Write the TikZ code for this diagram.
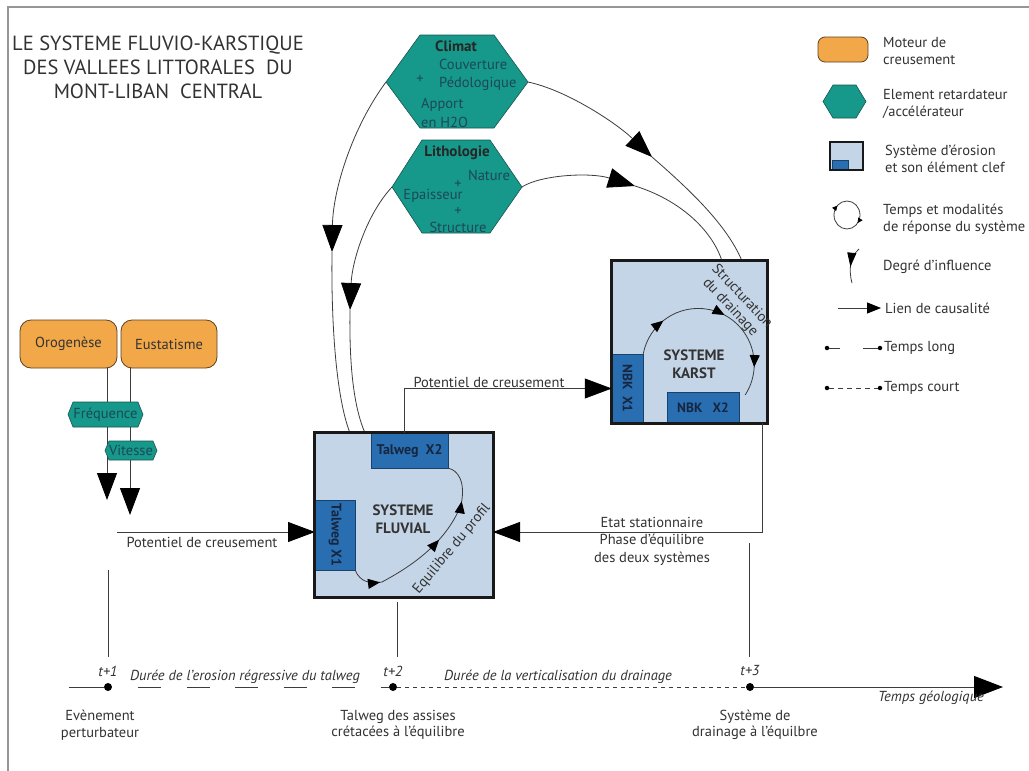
\documentclass[tikz,border=0pt]{standalone}
\usepackage{fontspec}
\setmainfont{PT Sans}
\usetikzlibrary{arrows.meta,decorations.markings,calc}
\definecolor{orangebox}{RGB}{242,168,72}
\definecolor{orangeedge}{RGB}{95,65,35}
\definecolor{tealfill}{RGB}{22,152,138}
\definecolor{tealedge}{RGB}{25,85,80}
\definecolor{tealtext}{RGB}{28,72,88}
\definecolor{sysfill}{RGB}{197,213,232}
\definecolor{keyfill}{RGB}{42,110,178}
\definecolor{keytext}{RGB}{22,38,62}
\definecolor{linecol}{RGB}{60,60,60}
\definecolor{txt}{RGB}{50,50,50}
\definecolor{framecol}{RGB}{150,150,150}
\tikzset{
  conn/.style={draw=linecol, line width=0.8pt},
  bigarrow/.style={conn, -{Triangle[length=27pt,width=20pt,black]}},
  lbl/.style={inner sep=0pt, text=txt, font=\fontsize{14.5}{17.5}\selectfont},
  legtxt/.style={inner sep=0pt, text=txt, anchor=west, align=left, font=\fontsize{14.5}{17}\selectfont},
  tltxt/.style={inner sep=0pt, text=txt, align=center, font=\fontsize{14.5}{16.5}\selectfont},
  tlital/.style={inner sep=0pt, text=txt, font=\itshape\fontsize{14.5}{16}\selectfont},
  hexa/.style={fill=tealfill, draw=tealedge, line width=0.6pt},
  hextxt/.style={inner sep=0pt, text=tealtext, font=\fontsize{14.5}{18.5}\selectfont},
  hexbold/.style={inner sep=0pt, text=black!85, font=\bfseries\fontsize{15}{16}\selectfont},
  motor/.style={draw=orangeedge, fill=orangebox, rounded corners=11pt, line width=0.8pt,
     inner sep=0pt, text=txt, font=\fontsize{14.5}{16}\selectfont},
  sysbox/.style={fill=sysfill, draw=none, inner sep=0pt},
  sysborder/.style={draw=black!90, line width=3pt},
  keybox/.style={fill=keyfill, draw=keyfill!60!black, line width=0.5pt, inner sep=0pt,
     text=keytext, font=\bfseries\fontsize{14}{15}\selectfont},
  systxt/.style={inner sep=0pt, align=center, text=black!80, font=\bfseries\fontsize{15}{18}\selectfont},
  tdot/.style={circle, fill=black, inner sep=0pt, minimum size=8pt},
  sdot/.style={circle, fill=black, inner sep=0pt, minimum size=4.5pt}
}
\begin{document}
\begin{tikzpicture}[x=1pt,y=-1pt]
\useasboundingbox (0,0) rectangle (1029,771);
\fill[white] (0,0) rectangle (1029,771);
\draw[framecol, line width=1.3pt] (8,771) -- (8,7) -- (1029,7);

% ---------- title
\node[inner sep=0pt, align=center, text=txt, font=\fontsize{20.5}{24}\selectfont] (title) at (158,67)
  {LE SYSTEME\ FLUVIO-KARSTIQUE\\DES VALLEES\ LITTORALES\ \ DU\\MONT-LIBAN\ \ CENTRAL};

% ---------- named coordinates
\coordinate (climL) at (386,82);
\coordinate (climR) at (528,82);
\coordinate (lithL) at (392,187);
\coordinate (lithR) at (522,187);
\coordinate (fA) at (332,252);
\coordinate (fB) at (350,310);
\coordinate (fluvT1) at (350,433);
\coordinate (fluvT2) at (365,433);
\coordinate (fluvT3) at (404,433);
\coordinate (kA) at (652,157);
\coordinate (kB) at (635,186);
\coordinate (karstT1) at (742,261);
\coordinate (karstT2) at (722,261);
\coordinate (karstB) at (762,423);
\coordinate (fluvR) at (493,532);
\coordinate (fluvL) at (315,532);
\coordinate (potS) at (117,532);
\coordinate (oroOut) at (107,368);
\coordinate (oroEnd) at (107,500);
\coordinate (eusOut) at (130,368);
\coordinate (eusEnd) at (130,515);

% ---------- curves from hexagons
\draw[bigarrow] (climL) .. controls (352,128) and (333,190) .. (fA);
\draw[conn] (fA) .. controls (331,330) and (337,400) .. (fluvT1);
\draw[bigarrow] (lithL) .. controls (366,215) and (352,262) .. (fB);
\draw[conn] (fB) .. controls (349,372) and (355,410) .. (fluvT2);
\draw[bigarrow] (climR) .. controls (566,90) and (615,122) .. (kA);
\draw[conn] (kA) .. controls (690,190) and (727,225) .. (karstT1);
\draw[bigarrow] (lithR) .. controls (540,175) and (590,172) .. (kB);
\draw[conn] (kB) .. controls (680,200) and (712,230) .. (karstT2);

% ---------- hexagons
\path[hexa] (386,82) -- (420,35) -- (494,35) -- (528,82) -- (494,128) -- (420,128) -- cycle;
\path[hexa] (392,187) -- (422,140) -- (490,140) -- (522,187) -- (490,233) -- (422,233) -- cycle;
\node[hexbold] (climat) at (456,46) {Climat};
\node[hextxt, anchor=west, align=left] (couv) at (439,75) {Couverture\\Pédologique};
\node[hextxt] (plus1) at (420,79) {+};
\node[hextxt, anchor=west, align=left] (apport) at (421,113) {Apport\\en H2O};
\node[hexbold] (litho) at (457,153) {Lithologie};
\node[hextxt] (nature) at (489,175) {Nature};
\node[hextxt] (plus2) at (458,184) {+};
\node[hextxt] (epais) at (433,196) {Epaisseur};
\node[hextxt] (plus3) at (458,211) {+};
\node[hextxt] (struct) at (458,227) {Structure};

% ---------- orogenese / eustatisme
\draw[bigarrow] (oroOut) -- (oroEnd);
\draw[bigarrow] (eusOut) -- (eusEnd);
\node[motor, minimum width=97pt, minimum height=48pt] (oro) at (68.5,344) {Orogenèse};
\node[motor, minimum width=96pt, minimum height=48pt] (eus) at (169,344) {Eustatisme};
\path[hexa] (68,414.5) -- (73,402) -- (138,402) -- (143,414.5) -- (138,427) -- (73,427) -- cycle;
\node[hextxt, font=\fontsize{14.5}{15}\selectfont] (freq) at (105.5,414.5) {Fréquence};
\path[hexa] (105,450.5) -- (109,441) -- (153,441) -- (157,450.5) -- (153,460) -- (109,460) -- cycle;
\node[hextxt, font=\fontsize{14.5}{15}\selectfont] (vit) at (131,450.5) {Vitesse};

% ---------- potentiel (left)
\draw[bigarrow] (potS) -- (fluvL);
\node[lbl] (pot1) at (202,542) {Potentiel de creusement};

% ---------- fluvial system
\node[sysbox, minimum width=178pt, minimum height=164pt] (fluv) at (404,515) {};
\node[keybox, minimum width=77pt, minimum height=35pt] (tw2) at (409.5,450.5) {Talweg\ \ X2};
\node[keybox, minimum width=40pt, minimum height=70pt] (tw1) at (335,535) {};
\node[inner sep=0pt, rotate=-90, text=keytext, font=\bfseries\fontsize{14}{15}\selectfont] (tw1t) at (335,535) {Talweg X1};
\draw[sysborder] (fluv.north west) rectangle (fluv.south east);
\node[systxt] (fluvt) at (403,519) {SYSTEME\\FLUVIAL};
\draw[conn, postaction={decorate}, decoration={markings,
   mark=at position 0.16 with {\arrow{Triangle[length=12pt,width=10pt,black]}},
   mark=at position 0.55 with {\arrow{Triangle[length=12pt,width=10pt,black]}},
   mark=at position 0.79 with {\arrow{Triangle[length=12pt,width=10pt,black]}}}]
   (tw1.south east) .. controls (360,582) and (370,584) .. (382,582)
   .. controls (408,568) and (445,545) .. (461,505)
   .. controls (466,482) and (458,470) .. (tw2.south east);
\node[inner sep=0pt, rotate=50, text=txt, font=\fontsize{14.5}{15}\selectfont] (equil) at (452,549) {Equilibre du profil};

% ---------- karst system
\node[sysbox, minimum width=155pt, minimum height=162pt] (karst) at (689.5,342) {};
\node[keybox, minimum width=31pt, minimum height=69pt] (nbk1) at (627.5,388.5) {};
\node[inner sep=0pt, rotate=-90, text=keytext, font=\bfseries\fontsize{13.5}{14}\selectfont] (nbk1t) at (627.5,388.5) {NBK\ \ X1};
\node[keybox, minimum width=72pt, minimum height=31pt, font=\bfseries\fontsize{13.5}{14}\selectfont] (nbk2) at (703,407.5) {NBK\ \ \ X2};
\draw[sysborder] (karst.north west) rectangle (karst.south east);
\node[systxt] (karstt) at (694,364) {SYSTEME\\KARST};
\draw[conn, postaction={decorate}, decoration={markings,
   mark=at position 0.2 with {\arrow{Triangle[length=12pt,width=10pt,black]}},
   mark=at position 0.53 with {\arrow{Triangle[length=12pt,width=10pt,black]}},
   mark=at position 0.85 with {\arrow{Triangle[length=12pt,width=10pt,black]}}}]
   (nbk1.north east) arc[start angle=191, end angle=393, radius=56];
\node[inner sep=0pt, rotate=-47, align=center, text=txt, font=\fontsize{14.5}{16}\selectfont] (structd) at (736,302) {Structuration\\du drainage};

% ---------- connectors between systems
\draw[bigarrow] (fluvT3) |- (nbk1.west);
\node[lbl] (pot2) at (489,382) {Potentiel de creusement};
\draw[bigarrow] (karstB) |- (fluvR);
\node[lbl, align=center] (etat1) at (652,522) {Etat stationnaire};
\node[lbl, align=center] (etat2) at (652,550) {Phase d’équilibre\\des deux systèmes};

% ---------- timeline
\coordinate (tl0) at (69,687);
\coordinate (tlEnd) at (1003,687);
\coordinate (v1a) at (108,570); \coordinate (v1b) at (108,657);
\coordinate (v2a) at (397,602); \coordinate (v2b) at (397,657);
\coordinate (v3a) at (749,543); \coordinate (v3b) at (749,657);
\draw[conn] (v1a) -- (v1b);
\draw[conn] (v2a) -- (v2b);
\draw[conn] (v3a) -- (v3b);
\node[tdot] (d1) at (108,687) {};
\node[tdot] (d2) at (393,687) {};
\node[tdot] (d3) at (750,687) {};
\draw[conn, line width=1pt] (tl0) -- (d1);
\draw[conn, line width=1pt, dash pattern=on 23pt off 25.5pt] (138,687) -- (d2.west);
\draw[conn, line width=1pt, dash pattern=on 4pt off 4pt] (d2) -- (d3);
\draw[conn, line width=1pt, -{Triangle[length=29pt,width=22pt,black]}] (d3) -- (tlEnd);
\node[tlital] (t1) at (108,671) {t+1};
\node[tlital] (t2) at (393,671) {t+2};
\node[tlital] (t3) at (750,671) {t+3};
\node[tlital] (dur1) at (245,677) {Durée de l’erosion régressive du talweg};
\node[tlital] (dur2) at (558,677) {Durée de la verticalisation du drainage};
\node[tlital] (tg) at (931,698) {Temps géologique};
\node[tltxt] (ev) at (100,725) {Evènement\\perturbateur};
\node[tltxt] (talw) at (398,725) {Talweg des assises\\crétacées à l’équilibre};
\node[tltxt] (sysd) at (755,725) {Système de\\drainage à l’équilbre};

% ---------- legend
\node[motor, minimum width=50pt, minimum height=25pt, rounded corners=7pt] (lg1) at (843,49.5) {};
\node[legtxt] (lg1t) at (883,51) {Moteur de\\creusement};
\path[hexa] (823,101.5) -- (833,85) -- (856,85) -- (866,101.5) -- (856,118) -- (833,118) -- cycle;
\node[legtxt] (lg2t) at (883,104) {Element retardateur\\/accélérateur};
\node[sysbox, minimum width=33pt, minimum height=28pt] (lg3) at (846.5,156) {};
\node[keybox, minimum width=16pt, minimum height=9pt] (lg3k) at (840.5,164.5) {};
\draw[sysborder, line width=2.5pt] (lg3.north west) rectangle (lg3.south east);
\node[legtxt] (lg3t) at (885,159) {Système d’érosion\\et son élément clef};
\draw[conn, postaction={decorate}, decoration={markings,
   mark=at position 0.1 with {\arrow{Triangle[length=5pt,width=5pt,black]}},
   mark=at position 0.62 with {\arrow{Triangle[length=5pt,width=5pt,black]}}}]
   (847,215) ellipse[x radius=13, y radius=14];
\coordinate (lg4c) at (847,215);
\node[legtxt] (lg4t) at (883,219) {Temps et modalités\\de réponse du système};
\coordinate (lg5a) at (859,249);
\coordinate (lg5b) at (852,283);
\draw[conn, postaction={decorate}, decoration={markings,
   mark=at position 0.55 with {\arrow{Triangle[length=14pt,width=9pt,black]}}}]
   (lg5a) .. controls (851,256) and (848,268) .. (lg5b);
\node[legtxt] (lg5t) at (883,267) {Degré d’influence};
\coordinate (lg6a) at (838,308);
\coordinate (lg6b) at (881,308);
\draw[conn, -{Triangle[length=14pt,width=11pt,black]}] (lg6a) -- (lg6b);
\node[legtxt] (lg6t) at (885,308) {Lien de causalité};
\node[sdot] (lg7a) at (827,348) {};
\node[sdot] (lg7b) at (880,348) {};
\draw[conn] (lg7a) -- ++(13,0);
\draw[conn] (lg7b) -- ++(-17,0);
\node[legtxt] (lg7t) at (884,348) {Temps long};
\node[sdot] (lg8a) at (827,388) {};
\node[sdot] (lg8b) at (880,388) {};
\draw[conn, dash pattern=on 5pt off 4pt] (lg8a) -- (lg8b);
\node[legtxt] (lg8t) at (884,388) {Temps court};
\end{tikzpicture}
\end{document}
